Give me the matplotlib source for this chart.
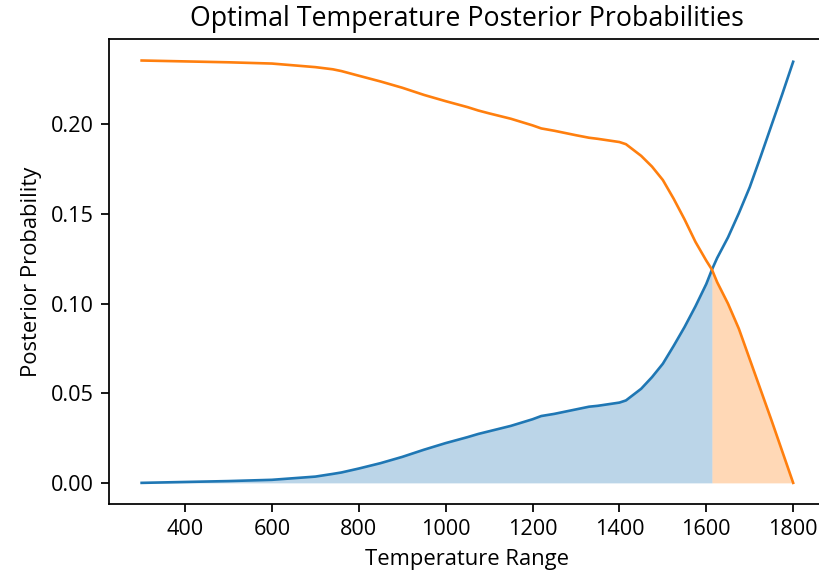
import numpy as np
import matplotlib
matplotlib.use("Agg")
from matplotlib import pyplot as plt

# Values
temps = [300, 400, 500, 600, 700, 740, 760, 800, 850, 900, 950, 1000, 1050,
         1075, 1100, 1150, 1200, 1220, 1250, 1300, 1330, 1350, 1400, 1415,
         1450, 1475, 1500, 1525, 1550, 1575, 1600, 1613, 1625, 1650, 1675,
         1700, 1725, 1750, 1775, 1800]
low_post = [0.0000, 0.0005, 0.0010, 0.0017, 0.0035, 0.0050, 0.0058, 0.0080,
            0.0110, 0.0145, 0.0185, 0.0222, 0.0255, 0.0273, 0.0288, 0.0318,
            0.0355, 0.0373, 0.0385, 0.0410, 0.0425, 0.0430, 0.0448, 0.0460,
            0.0525, 0.0590, 0.0665, 0.0765, 0.0870, 0.0985, 0.1110, 0.1190,
            0.1255, 0.1370, 0.1505, 0.1650, 0.1820, 0.1995, 0.2170, 0.2350]
high_post = [0.2357, 0.2352, 0.2347, 0.2340, 0.2320, 0.2308, 0.2298, 0.2272,
             0.2240, 0.2205, 0.2165, 0.2130, 0.2097, 0.2078, 0.2062, 0.2032,
             0.1995, 0.1978, 0.1965, 0.1940, 0.1926, 0.1920, 0.1902, 0.1890,
             0.1825, 0.1765, 0.1690, 0.1585, 0.1470, 0.1345, 0.1240, 0.1190,
             0.1120, 0.1000, 0.0860, 0.0690, 0.0520, 0.0350, 0.0175, 0.0000]
cross_temp = 1613

plt.rcParams['font.family'] = ['Open Sans', 'DejaVu Sans']
# the reference looks like a default figure blown up by ~1.58
s = 1.58
plt.rcParams.update({
    'axes.linewidth': 0.8 * s,
    'xtick.major.size': 3.5 * s, 'ytick.major.size': 3.5 * s,
    'xtick.major.width': 0.8 * s, 'ytick.major.width': 0.8 * s,
    'xtick.major.pad': 3.5 * s, 'ytick.major.pad': 3.5 * s,
    'axes.titlepad': 6.0 * s, 'axes.labelpad': 4.0 * s,
})

x = np.array(temps)
y1 = np.array(low_post)
y2 = np.array(high_post)

fig = plt.figure(figsize=(8.2, 5.75), dpi=100)
ax = fig.add_axes([0.133, 0.1235, 0.874, 0.808])

ax.plot(x, y1, color='C0', lw=1.9)
ax.plot(x, y2, color='C1', lw=1.9)
ax.fill_between(x, y1, where=x <= cross_temp, color='C0', alpha=0.3, lw=0)
ax.fill_between(x, y2, where=x >= cross_temp, color='C1', alpha=0.3, lw=0)

ax.set_title('Optimal Temperature Posterior Probabilities', fontsize=19.3)
ax.set_xlabel('Temperature Range', fontsize=15.8)
ax.set_ylabel('Posterior Probability', fontsize=15.8)
ax.tick_params(labelsize=15.6)

fig.savefig('out.png', dpi=100)
